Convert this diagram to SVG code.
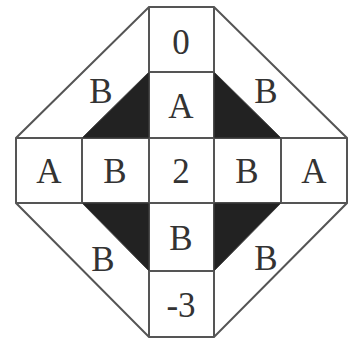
<svg xmlns="http://www.w3.org/2000/svg" width="351" height="342" viewBox="0 0 351 342">
<style>
.ln{fill:none;stroke:#555;stroke-width:2;stroke-linejoin:miter}
.tri{fill:#222;stroke:#444;stroke-width:1}
.t{font-family:"Liberation Serif","DejaVu Serif",serif;font-size:35px;fill:#333;text-anchor:middle;dominant-baseline:central}
</style>
<rect width="351" height="342" fill="#fff"/>
<g id="connectors">
<polygon class="ln" points="149,7 214,7 347,138 347,203 214,337 149,337 16,203 16,138"/>
<polyline class="ln" points="149,7 149,337"/>
<polyline class="ln" points="214,7 214,337"/>
<polyline class="ln" points="16,138 347,138"/>
<polyline class="ln" points="16,203 347,203"/>
<polyline class="ln" points="149,72 214,72"/>
<polyline class="ln" points="149,271 214,271"/>
<polyline class="ln" points="82,138 82,203"/>
<polyline class="ln" points="281,138 281,203"/>
</g>
<g id="shade-tl"><polygon class="tri" points="82,138 149,138 149,72"/></g>
<g id="shade-tr"><polygon class="tri" points="214,72 214,138 281,138"/></g>
<g id="shade-bl"><polygon class="tri" points="82,203 149,203 149,271"/></g>
<g id="shade-br"><polygon class="tri" points="214,203 281,203 214,271"/></g>
<g id="n0"><text class="t" x="181" y="42">0</text></g>
<g id="nA1"><text class="t" x="181" y="106">A</text></g>
<g id="n2"><text class="t" x="181" y="171">2</text></g>
<g id="nB5"><text class="t" x="181" y="238">B</text></g>
<g id="nm3"><text class="t" x="181" y="305">-3</text></g>
<g id="nAL"><text class="t" x="49" y="171">A</text></g>
<g id="nBL"><text class="t" x="115" y="171">B</text></g>
<g id="nBR"><text class="t" x="247" y="171">B</text></g>
<g id="nAR"><text class="t" x="314" y="171">A</text></g>
<g id="nBtl"><text class="t" x="101" y="91">B</text></g>
<g id="nBtr"><text class="t" x="266" y="91">B</text></g>
<g id="nBbl"><text class="t" x="103" y="259">B</text></g>
<g id="nBbr"><text class="t" x="266" y="258">B</text></g>
</svg>
